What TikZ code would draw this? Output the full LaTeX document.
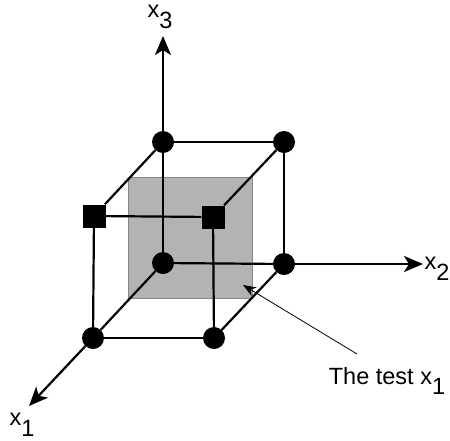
\documentclass[tikz,border=0pt]{standalone}
\usepackage{fontspec}
\setmainfont{Liberation Sans}
\usepackage{tikz}
\usetikzlibrary{arrows.meta, positioning}
\definecolor{slab}{RGB}{179,179,179}
\definecolor{slabedge}{RGB}{135,135,135}
\newcommand{\lowidx}[1]{\raisebox{-0.45em}{#1}}

\begin{document}
\begin{tikzpicture}[x=1pt, y=-1pt,
  every node/.style={font=\fontsize{23.5}{26}\selectfont},
  dot/.style={circle, fill=black, inner sep=0pt, minimum size=22pt},
  sq/.style={rectangle, fill=black, inner sep=0pt, minimum size=23pt},
  edge/.style={line width=2.2pt},
  axis/.style={line width=2.2pt, -{Stealth[length=19pt, width=16pt, inset=5pt]}},
  note/.style={line width=0.8pt, -{Stealth[length=13pt, width=10pt, inset=4pt]}},
]
\useasboundingbox (0,0) rectangle (450,440);

% ── test slab ──
\filldraw[fill=slab, draw=slabedge, line width=0.8pt] (128,177) rectangle (252,298);

% ── back face ──
\node[dot] (o)  at (163,263) {};
\node[dot] (t)  at (163,142) {};
\node[dot] (tr) at (284,142) {};
\node[dot] (r)  at (284,264) {};

% ── front face ──
\node[dot] (fbl) at (93,338) {};
\node[dot] (fbr) at (214,338) {};
\node[sq]  (ftl) at (94,216) {};
\node[sq]  (ftr) at (213,217) {};

\draw[edge] (o)--(t); \draw[edge] (t)--(tr); \draw[edge] (tr)--(r); \draw[edge] (r)--(o);
\draw[edge] (fbl)--(fbr); \draw[edge] (fbr)--(ftr); \draw[edge] (ftr)--(ftl); \draw[edge] (ftl)--(fbl);
\draw[edge] (o)--(fbl); \draw[edge] (t)--(ftl); \draw[edge] (tr)--(ftr); \draw[edge] (r)--(fbr);

% ── axes ──
\coordinate (e3) at (163,36);
\coordinate (e2) at (423,264);
\coordinate (e1) at (29,406);
\draw[axis] (t) -- (e3);
\draw[axis] (r) -- (e2);
\draw[axis] (fbl) -- (e1);
\node (l3) at (160,17)  {x\lowidx{3}};
\node (l2) at (437,269) {x\lowidx{2}};
\node (l1) at (22,425)  {x\lowidx{1}};

% ── annotation ──
\node (lbl) at (387,381) {The test x\lowidx{1}};
\coordinate (tail) at (357,354);
\coordinate (hit)  at (243,285);
\draw[note] (tail) -- (hit);

\end{tikzpicture}
\end{document}
